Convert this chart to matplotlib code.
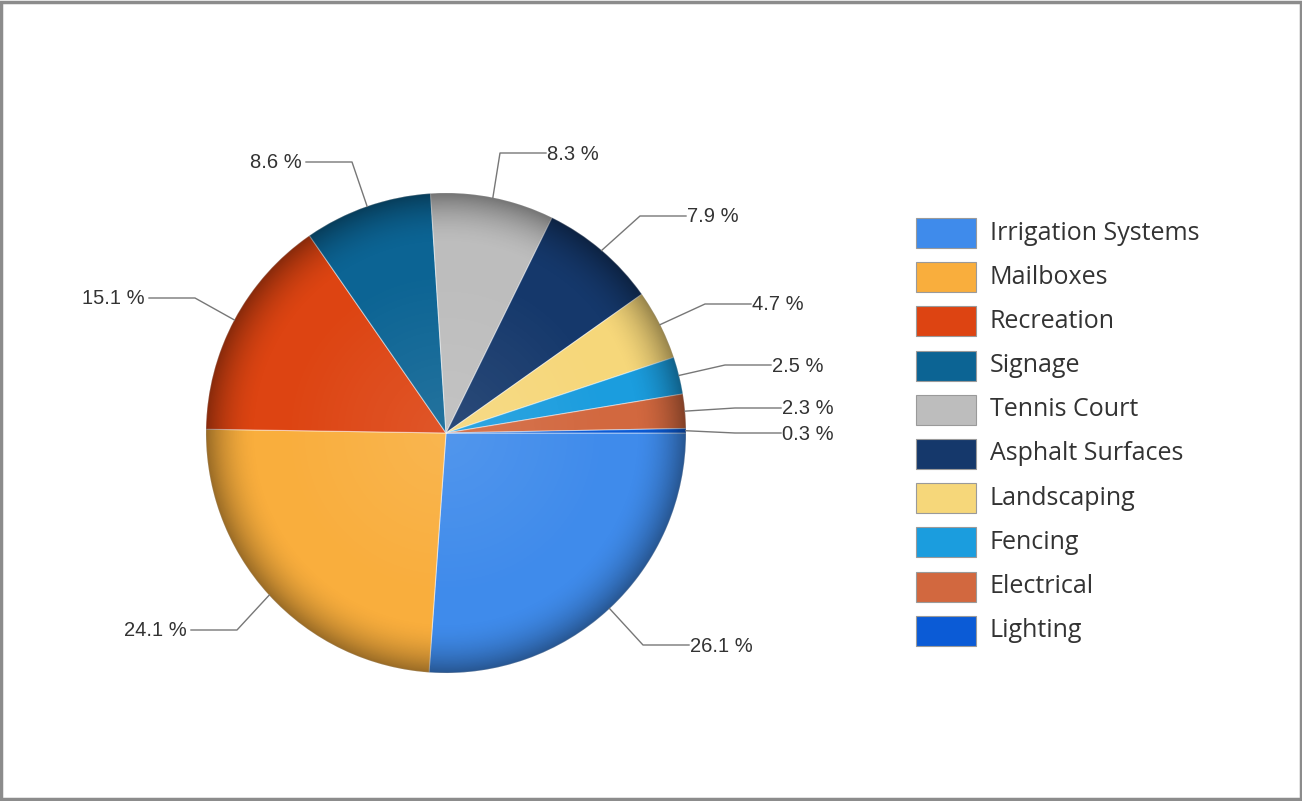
import numpy as np
import matplotlib.pyplot as plt
from matplotlib.patches import Rectangle, Circle

# data
categories = ['Irrigation Systems', 'Mailboxes', 'Recreation', 'Signage', 'Tennis Court',
              'Asphalt Surfaces', 'Landscaping', 'Fencing', 'Electrical', 'Lighting']
shares = [26.1, 24.1, 15.1, 8.6, 8.3, 7.9, 4.7, 2.5, 2.3, 0.3]
colors = ['#3F8BEB', '#F9AE3D', '#DD4412', '#0C6494', '#BDBDBD',
          '#15386B', '#F6D77A', '#1B9DDE', '#D2683F', '#0B5BD6']

# layout (pixels, y from top)
W, H = 1302, 801
cx, cy, R = 446, 433, 240
elbows = [(643, 645), (237, 630), (195, 298), (352, 162), (500, 153),
          (640, 216), (705, 304), (725, 365), (735, 408), (735, 433)]
seg = 46

fig = plt.figure(figsize=(W / 100, H / 100), dpi=100)
ax = fig.add_axes([0, 0, 1, 1])

wedges, _ = ax.pie(shares, colors=colors, startangle=0, counterclock=True,
                   center=(cx, cy), radius=R,
                   wedgeprops=dict(edgecolor=(1, 1, 1, 0.45), linewidth=0.8))
ax.set_xlim(0, W)
ax.set_ylim(H, 0)
ax.set_aspect('equal')
ax.axis('off')

# soft rim shading
n = 400
g = np.linspace(-1, 1, n)
xx, yy = np.meshgrid(g, g)
d = np.sqrt(xx ** 2 + yy ** 2)
shade = np.zeros((n, n, 4))
shade[..., 3] = np.clip((d - 0.78) / 0.22, 0, 1) ** 2 * 0.38
light = np.ones((n, n, 4))
light[..., 3] = np.clip(1 - d / 0.7, 0, 1) * 0.10
clip = Circle((cx, cy), R, transform=ax.transData)
for img in (shade, light):
    im = ax.imshow(img, extent=(cx - R, cx + R, cy + R, cy - R), zorder=3,
                   interpolation='bilinear')
    im.set_clip_path(clip)
ax.set_xlim(0, W)
ax.set_ylim(H, 0)

# labels with leader lines
for w, v, (ex, ey) in zip(wedges, shares, elbows):
    t = np.deg2rad((w.theta1 + w.theta2) / 2)
    px, py = cx + R * np.cos(t), cy + R * np.sin(t)
    right = ex > cx
    tx = ex + seg if right else ex - seg
    ax.plot([px, ex, tx], [py, ey, ey], color='#777777', lw=1.0, zorder=4)
    ax.text(tx + (1 if right else -4), ey + 1, f'{v} %', ha='left' if right else 'right',
            va='center', fontsize=14.5, color='#333333', family='Liberation Sans', zorder=5)

# legend
lx, ly0, step = 916, 233, 44.2
for i, (name, c) in enumerate(zip(categories, colors)):
    y = ly0 + i * step
    ax.add_patch(Rectangle((lx, y - 15), 60, 30, facecolor=c, edgecolor='#9a9a9a', lw=0.8))
    ax.text(lx + 74, y, name, ha='left', va='center', fontsize=18, color='#333333',
            family='Open Sans')

# outer frame
fig.add_artist(Rectangle((0.001, 0.002), 0.998, 0.996, transform=fig.transFigure,
                         fill=False, edgecolor='#8c8c8c', lw=2.5))

fig.savefig('out.png', dpi=100)
